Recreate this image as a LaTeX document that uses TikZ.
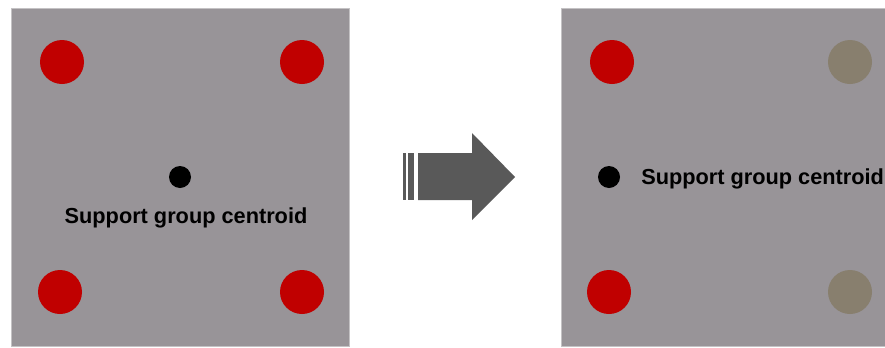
\documentclass[tikz,border=0pt]{standalone}
\usepackage{fontspec}
\setmainfont{Liberation Sans}
\definecolor{plate}{HTML}{989498}
\definecolor{plateedge}{HTML}{C4C2C4}
\definecolor{active}{HTML}{C00000}
\definecolor{released}{HTML}{887F6E}
\definecolor{arrowgray}{HTML}{595959}
\tikzset{
  plate/.style={fill=plate, draw=plateedge, line width=0.6pt},
  support/.style={circle, minimum size=33pt, inner sep=0pt},
  supporton/.style={support, fill=active},
  supportoff/.style={support, fill=released},
  centroid/.style={circle, fill=black, minimum size=16.5pt, inner sep=0pt},
  clabel/.style={font=\bfseries\fontsize{16.3}{18}\selectfont, inner sep=0pt, text=black},
}
\begin{document}
\begin{tikzpicture}[x=0.75pt, y=-0.75pt]
  \useasboundingbox (0,0) rectangle (885,347);
  % left plate: all four supports active
  \draw[plate] (11,8) rectangle (349,346);
  \node[supporton] (l1) at (62,62) {};
  \node[supporton] (l2) at (302,62) {};
  \node[supporton] (l3) at (60,292) {};
  \node[supporton] (l4) at (302,292) {};
  \node[centroid] (lc) at (180,177) {};
  \node[clabel, anchor=base] (lt) at (186,223) {Support group centroid};
  % transition arrow
  \fill[arrowgray] (403,153) rectangle (406,200);
  \fill[arrowgray] (408,153) rectangle (414,200);
  \fill[arrowgray] (418,153) -- (472,153) -- (472,133) -- (515,177)
    -- (472,220) -- (472,200) -- (418,200) -- cycle;
  % right plate: two supports released
  \draw[plate] (561,8) rectangle (892,346);
  \node[supporton] (r1) at (612,62) {};
  \node[supportoff] (r2) at (850,62) {};
  \node[supporton] (r3) at (609,292) {};
  \node[supportoff] (r4) at (850,292) {};
  \node[centroid] (rc) at (609,177) {};
  \node[clabel, anchor=base west] (rt) at (641,184) {Support group centroid};
\end{tikzpicture}
\end{document}
